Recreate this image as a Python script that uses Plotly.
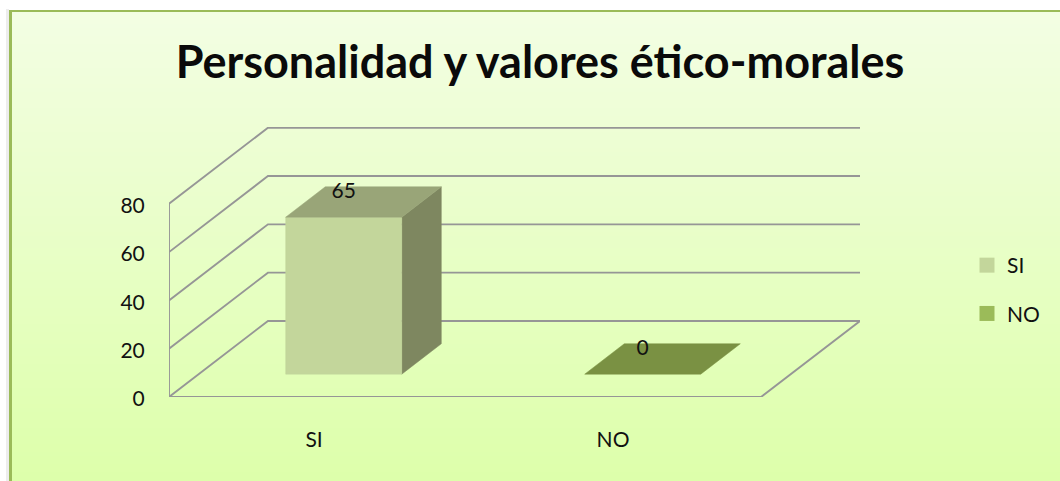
import plotly.graph_objects as go

title_text = "Personalidad y valores ético-morales"
categories = ["SI", "NO"]
series_values = [65, 0]
y_ticks = [0, 20, 40, 60, 80]

# colours per category: front, top, side, legend
front_colors = ["#C3D69B", "#9BBB59"]
top_colors = ["#99A578", "#7A9143"]
side_colors = ["#7E8760", "#6E8238"]
legend_colors = ["#C3D69B", "#9BBB59"]
grid_color = "#969696"
border_color = "#9BBB59"
font_name = "Lato"

# oblique projection of the depth axis, in axis units
DEPTH_X = 0.331
DEPTH_Y = 31.5
BAR_HALF = 0.194
BAR_Z = (0.3, 0.7)
FRONT_LEFT = -0.485
FRONT_RIGHT = 1.495

# plot area in page pixels, the frame shapes are placed relative to it
WIDTH, HEIGHT = 1060, 481
PLOT_L, PLOT_R, PLOT_T, PLOT_B = 169, 860, 127, 397


def paper_x(px):
    return (px - PLOT_L) / (PLOT_R - PLOT_L)


def paper_y(py):
    return (PLOT_B - py) / (PLOT_B - PLOT_T)


def project(x, y, z):
    return x + z * DEPTH_X, y + z * DEPTH_Y


def polygon(points):
    xs, ys = zip(*[project(*p) for p in points])
    return list(xs) + [xs[0]], list(ys) + [ys[0]]


def add_face(fig, points, color):
    xs, ys = polygon(points)
    fig.add_trace(go.Scatter(x=xs, y=ys, mode="lines", fill="toself", fillcolor=color,
                             line=dict(color=color, width=0.5), showlegend=False, hoverinfo="skip"))


def add_line(fig, points):
    xs, ys = zip(*[project(*p) for p in points])
    fig.add_trace(go.Scatter(x=list(xs), y=list(ys), mode="lines",
                             line=dict(color=grid_color, width=1.9), showlegend=False, hoverinfo="skip"))


def frame_rect(x0, x1, y0, y1, color):
    return dict(type="rect", xref="paper", yref="paper", layer="below",
                x0=paper_x(x0), x1=paper_x(x1), y0=paper_y(y0), y1=paper_y(y1),
                line_width=0, fillcolor=color)


fig = go.Figure()

################        WALLS AND FLOOR      #####################
for tick in y_ticks:
    add_line(fig, [(FRONT_LEFT, tick, 0), (FRONT_LEFT, tick, 1), (FRONT_RIGHT, tick, 1)])
add_line(fig, [(FRONT_LEFT, y_ticks[0], 0), (FRONT_LEFT, y_ticks[-1], 0)])
add_line(fig, [(FRONT_LEFT, y_ticks[0], 0), (FRONT_RIGHT, y_ticks[0], 0), (FRONT_RIGHT, y_ticks[0], 1)])

################        BARS      #####################
z0, z1 = BAR_Z
for i, value in enumerate(series_values):
    left, right = i - BAR_HALF, i + BAR_HALF
    if value > 0:
        add_face(fig, [(right, 0, z0), (right, 0, z1), (right, value, z1), (right, value, z0)], side_colors[i])
        add_face(fig, [(left, 0, z0), (right, 0, z0), (right, value, z0), (left, value, z0)], front_colors[i])
    add_face(fig, [(left, value, z0), (right, value, z0), (right, value, z1), (left, value, z1)], top_colors[i])

# value labels
label_x = [i + z0 * DEPTH_X for i in range(len(categories))]
label_y = [v + z0 * DEPTH_Y + 10 for v in series_values]
fig.add_trace(go.Scatter(x=label_x, y=label_y, mode="text", text=[str(v) for v in series_values],
                         textposition="middle center", textfont=dict(family=font_name, size=21, color="#111111"),
                         showlegend=False, hoverinfo="skip"))

# legend only entries
for i, name in enumerate(categories):
    fig.add_trace(go.Scatter(x=[None], y=[None], mode="markers", name=name, legendgroup=name,
                             marker=dict(symbol="square", size=15, color=legend_colors[i])))

################        BACKGROUND      #####################
shapes = [
    frame_rect(6, 9, 9, HEIGHT, "#EDEDED"),
    frame_rect(9, 12, 10, HEIGHT, border_color),
    frame_rect(9, WIDTH, 10, 12, border_color),
]
# whole pixel bands that overlap by one pixel, so no seams show
band_px = 4
top_rgb = (243, 254, 227)
bottom_rgb = (221, 255, 170)
for y_top in range(12, HEIGHT, band_px):
    t = (y_top - 12) / (HEIGHT - 12)
    rgb = [round(a + (c - a) * t) for a, c in zip(top_rgb, bottom_rgb)]
    shapes.append(frame_rect(12, WIDTH, y_top, min(y_top + band_px + 1, HEIGHT), f"rgb({rgb[0]},{rgb[1]},{rgb[2]})"))

fig.update_layout(
    width=WIDTH,
    height=HEIGHT,
    autosize=False,
    margin=dict(l=PLOT_L, r=WIDTH - PLOT_R, t=PLOT_T, b=HEIGHT - PLOT_B),
    paper_bgcolor="white",
    plot_bgcolor="rgba(0,0,0,0)",
    font=dict(family=font_name, color="#111111", size=21),
    title=dict(text=f"<b>{title_text}</b>", x=540 / WIDTH, xanchor="center", xref="container",
               y=0.87, yanchor="middle", yref="container", font=dict(family=font_name, size=45, color="#0a0a0a")),
    legend=dict(x=paper_x(967), y=paper_y(245), xref="paper", yref="paper", xanchor="left", yanchor="top",
                font=dict(size=21), tracegroupgap=18, itemsizing="trace", bgcolor="rgba(0,0,0,0)"),
    shapes=shapes,
)
fig.update_xaxes(range=[FRONT_LEFT, 1.826], tickmode="array", tickvals=list(range(len(categories))),
                 ticktext=categories, showgrid=False, zeroline=False, showline=False,
                 ticks="outside", ticklen=24, tickcolor="rgba(0,0,0,0)")
fig.update_yaxes(range=[0, 111.8], tickmode="array", tickvals=y_ticks, showgrid=False, zeroline=False,
                 showline=False, ticks="outside", ticklen=19, tickcolor="rgba(0,0,0,0)", ticklabelshift=2)

fig.write_html("out.html", config=dict(displayModeBar=False),
               post_script="document.body.style.margin='0';document.body.style.overflow='hidden';")
